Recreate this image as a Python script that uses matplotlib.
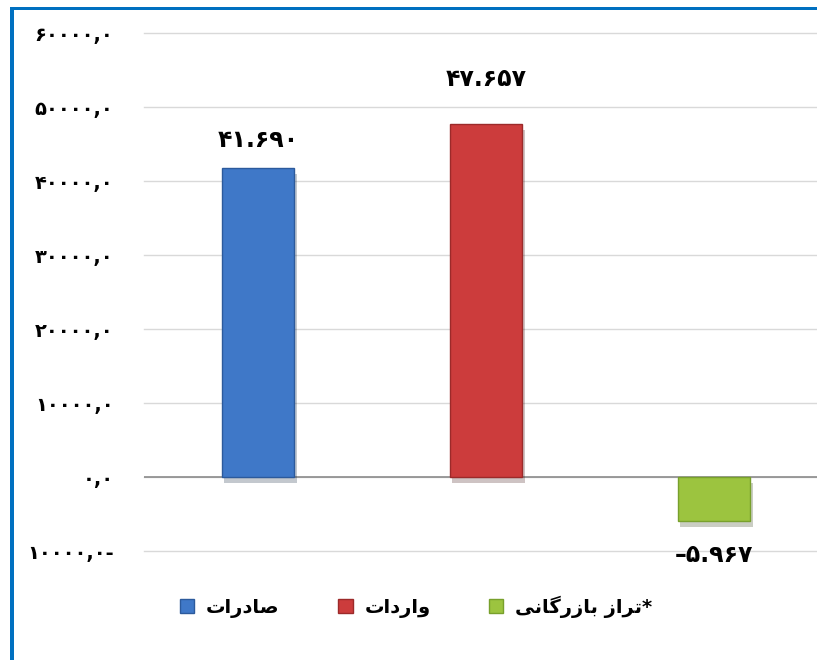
# -*- coding: utf-8 -*-
import matplotlib
matplotlib.use("Agg")
from matplotlib import pyplot as plt
from matplotlib.patches import Rectangle
import matplotlib.patheffects as pe

# Arabic script is written with presentation forms in visual (left to right) order,
# because matplotlib does no shaping of its own.
series = ["\uFE95\uFE8D\uFEAD\uFEA9\uFE8E\uFEBB",                 # صادرات
          "\uFE95\uFE8D\uFEA9\uFEAD\uFE8D\uFEED",                 # واردات
          "\uFEF0\uFEE7\uFE8E\uFB94\uFEAD\uFEAF\uFE8E\uFE91 \uFEAF\uFE8D\uFEAE\uFE97*"]  # *تراز بازرگانی
values = [41690, 47657, -5967]
colors = ["#3f78c8", "#cc3c3c", "#9cc43f"]
edges = ["#2c5a9c", "#9c2a2a", "#78a02c"]
yticks = [-10000, 0, 10000, 20000, 30000, 40000, 50000, 60000]

PERSIAN = str.maketrans("0123456789", "۰۱۲۳۴۵۶۷۸۹")

def fa_tick(v):
    s = f"{abs(v):.1f}".replace(".", ",").translate(PERSIAN)
    return s + "-" if v < 0 else s

def fa_label(v):
    s = f"{abs(v) / 1000:.3f}".translate(PERSIAN)
    return "\u2013" + s if v < 0 else s

W, H = 817, 660
fig = plt.figure(figsize=(W / 100, H / 100), dpi=100)
plt.rcParams['font.family'] = ['DejaVu Sans']

ax = fig.add_axes([144 / W, 1 - 551 / H, 684 / W, 518 / H])
x = range(len(values))
bars = ax.bar(x, values, width=0.32, color=colors, edgecolor=edges, linewidth=1.0,
              zorder=3)
for b in bars:
    b.set_path_effects([pe.SimplePatchShadow(offset=(2, -4), alpha=0.25), pe.Normal()])

ax.set_xlim(-0.5, 2.5)
ax.set_ylim(-10000, 60000)
ax.set_yticks(yticks)
ax.set_yticklabels([fa_tick(v) for v in yticks], fontsize=14, fontweight="bold")
ax.tick_params(axis='y', length=0, pad=22)
ax.set_xticks([])
ax.yaxis.grid(True, color="#d9d9d9", linewidth=1.0, zorder=0)
for g in ax.get_ygridlines():
    g.set_clip_on(False)
ax.axhline(0, color="#8c8c8c", linewidth=1.2, zorder=2)
for s in ax.spines.values():
    s.set_visible(False)

offsets = [12, 24, -16]
for b, v, off in zip(bars, values, offsets):
    ax.annotate(fa_label(v), (b.get_x() + b.get_width() / 2, v),
                xytext=(0, off), textcoords="offset points",
                ha="center", va="bottom" if v >= 0 else "top",
                fontsize=17, fontweight="bold")

handles = [Rectangle((0, 0), 1, 1, facecolor=c, edgecolor=e, lw=1.0)
           for c, e in zip(colors, edges)]
fig.legend(handles=handles, labels=series, loc="center", ncol=3,
           bbox_to_anchor=(416 / W, 1 - 607 / H), frameon=False,
           handlelength=0.75, handleheight=0.75, handletextpad=0.6,
           columnspacing=3.0, prop={"size": 14, "weight": "bold"})

# blue frame, only top and left edges are visible
fig.add_artist(Rectangle((10 / W, 0), 4 / W, (H - 7) / H, transform=fig.transFigure,
                         color="#0070c0", lw=0))
fig.add_artist(Rectangle((10 / W, (H - 10) / H), 1, 3 / H, transform=fig.transFigure,
                         color="#0070c0", lw=0))

fig.savefig("out.png", dpi=100)
